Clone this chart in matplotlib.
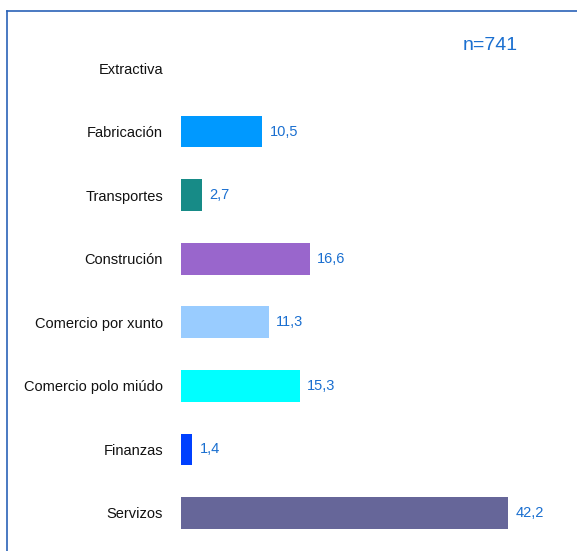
import matplotlib.pyplot as plt
from matplotlib.lines import Line2D

plt.rcParams['font.family'] = ['Liberation Sans', 'DejaVu Sans']

sectores = ['Extractiva', 'Fabricación', 'Transportes', 'Construción',
            'Comercio por xunto', 'Comercio polo miúdo', 'Finanzas', 'Servizos']
valores = [0.0, 10.5, 2.7, 16.6, 11.3, 15.3, 1.4, 42.2]
cores = ['#0099ff', '#0099ff', '#178b87', '#9966cc',
         '#99ccff', '#00ffff', '#0040ff', '#666699']
etiquetas = ['' if v == 0 else f'{v:.1f}'.replace('.', ',') for v in valores]
n_total = 741

W, H = 577, 551
fig = plt.figure(figsize=(W / 100, H / 100), dpi=100)

# axes: x=0 at pixel 181, top of axes at pixel 11
x0, ytop = 181, 11
ax = fig.add_axes([x0 / W, 0, 1 - x0 / W, 1 - ytop / H])
px_unit = 327 / 42.2
ax.set_xlim(0, (W - x0) / px_unit)
step = 63.57
ax.set_ylim((H - 68) / step, (ytop - 68) / step)

pos = list(range(len(sectores)))
ax.barh(pos, valores, height=0.5, color=cores)
for p, v, t in zip(pos, valores, etiquetas):
    if t:
        ax.annotate(t, (v, p), xytext=(5.5, 0), textcoords='offset points',
                    ha='left', va='center', fontsize=10.5, color='#1a6fd0')

ax.set_yticks(pos)
ax.set_yticklabels(sectores, fontsize=10.5, color='#111111')
ax.tick_params(axis='y', length=0, pad=13)
ax.set_xticks([])
for s in ax.spines.values():
    s.set_visible(False)

fig.text(490 / W, 1 - 46 / H, f'n={n_total}', fontsize=14, color='#1a6fd0',
         ha='center', va='center')

# marco
fc = '#2a62b8'
fig.add_artist(Line2D([7 / W, 7 / W], [0, 1 - 11 / H], color=fc, lw=1.2))
fig.add_artist(Line2D([7 / W, 1], [1 - 11 / H, 1 - 11 / H], color=fc, lw=1.2))

fig.savefig('out.png', dpi=100)
